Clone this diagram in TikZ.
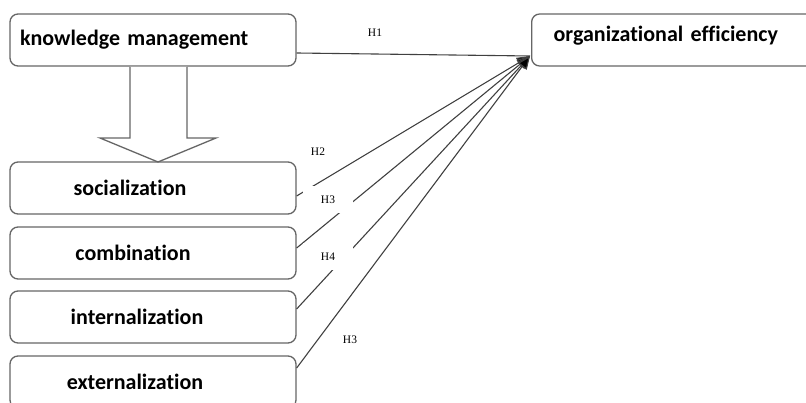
\documentclass[tikz,border=0pt]{standalone}
\usepackage{fontspec}
\setmainfont{Carlito}[Ligatures=NoCommon]
\newfontfamily\labfont{Liberation Serif}
\usetikzlibrary{arrows.meta}
\begin{document}
\begin{tikzpicture}[x=1pt,y=-1pt,
  box/.style={draw=black!60, line width=1.3pt, rounded corners=8pt, fill=white,
    minimum width=286pt, minimum height=52pt, inner sep=0pt, font=\fontsize{22}{26}\selectfont\bfseries},
  conn/.style={draw=black!75, line width=1.1pt},
  tip/.style={-{Triangle[length=13pt,width=11pt,fill=black]}},
  hlab/.style={fill=white, inner sep=0pt, font=\labfont\fontsize{11.5}{13}\selectfont}]
\useasboundingbox (0,0) rectangle (806,403);
\clip (0,0) rectangle (806,403);
% boxes
\node[box, text width=266pt, align=left] (km) at (153,40) {knowledge management};
\node[box, anchor=west, minimum width=320pt, text width=276pt, align=left, text depth=12pt] (oe) at (531,40) {organizational efficiency};
\node[box] (soc) at (153,188) {\hspace*{-46pt}socialization};
\node[box] (com) at (153,253) {\hspace*{-40pt}combination};
\node[box] (int) at (153,317) {\hspace*{-32pt}internalization};
\node[box] (ext) at (153,382) {\hspace*{-36pt}externalization};
% block arrow
\draw[draw=black!60, line width=1.3pt, fill=white, line join=miter]
  (130,67) -- (130,138) -- (100,138) -- (158,162) -- (216,138) -- (187,138) -- (187,67);
% connectors
\coordinate (conv) at (530,56);
\draw[conn] ([yshift=-13pt]km.east) -- (conv);
\draw[conn, tip] ([yshift=-8pt]soc.east) -- (conv);
\draw[conn, tip] ([yshift=5pt]com.east) -- (conv);
\draw[conn, tip] ([yshift=8pt]int.east) -- (conv);
\draw[conn, tip] ([yshift=14pt]ext.east) -- (conv);
% labels
\node[hlab] (h1) at (375,33) {H1};
\node[hlab, minimum width=24pt, minimum height=16pt] (h2) at (318,152) {H2};
\node[hlab, minimum width=50pt, minimum height=27pt] (h3a) at (328,200) {H3};
\node[hlab, minimum width=50pt, minimum height=27pt] (h4) at (328,257) {H4};
\node[hlab] (h3b) at (350,340) {H3};
\end{tikzpicture}
\end{document}
